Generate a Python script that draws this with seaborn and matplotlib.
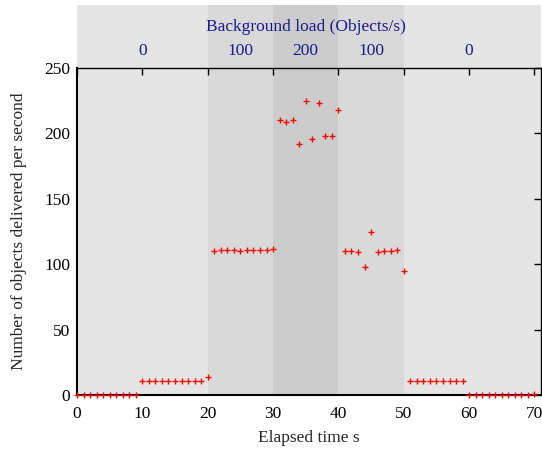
import matplotlib
matplotlib.use("Agg")
import matplotlib.pyplot as plt
import seaborn as sns
import pandas as pd

elapsed = list(range(0, 71))
delivered = ([0] * 10 + [11] * 10 + [14] +
             [110, 111, 111, 111, 110, 111, 111, 111, 111, 112] +
             [210, 209, 210, 192, 225, 196, 223, 198, 198, 218] +
             [110, 110, 109, 98, 125, 109, 110, 110, 111, 95] +
             [11] * 9 + [0] * 10 + [1])

phase_edges = [0, 20, 30, 40, 50, 71]
phase_loads = ["0", "100", "200", "100", "0"]
phase_label_x = [10, 25, 35, 45, 60]
phase_colors = ["#e5e5e5", "#d9d9d9", "#cccccc", "#d9d9d9", "#e5e5e5"]

df = pd.DataFrame({"t": elapsed, "n": delivered})

sns.set_style("white")
plt.rcParams["font.family"] = ["Liberation Serif", "DejaVu Serif"]
FS = 12.5

fig = plt.figure(figsize=(5.42, 4.53), dpi=100)
ax = fig.add_axes([77 / 542, 1 - 395 / 453, (541 - 77) / 542, (395 - 68) / 453])

band_top = 1 + (68 - 5) / (395 - 68)
for i in range(len(phase_loads)):
    ax.axvspan(phase_edges[i], phase_edges[i + 1], ymin=0, ymax=band_top,
               color=phase_colors[i], lw=0, clip_on=False, zorder=0)

sns.scatterplot(data=df, x="t", y="n", marker="+", color="#ff0000", s=22,
                linewidth=1.0, ax=ax, zorder=3, clip_on=False)

ax.set_xlim(0, 71)
ax.set_ylim(0, 250)
ax.set_xticks(range(0, 71, 10))
ax.set_yticks(range(0, 251, 50))
ax.tick_params(direction="in", length=5, width=1, top=True, right=True,
               labelsize=FS, colors="black", pad=5)
ax.tick_params(axis="x", pad=8)
for s in ["left", "bottom", "top", "right"]:
    ax.spines[s].set_visible(True)
    ax.spines[s].set_color("black")
    ax.spines[s].set_linewidth(1.0)
ax.spines["bottom"].set_linewidth(1.5)
ax.spines["left"].set_linewidth(1.5)
ax.set_facecolor("none")

ax.set_xlabel("Elapsed time s", fontsize=FS, labelpad=6)
ax.set_ylabel("Number of objects delivered per second", fontsize=FS, labelpad=12)

navy = "#1a1a8c"
ax.text(35, 1 + (68 - 27) / 327, "Background load (Objects/s)", transform=ax.get_xaxis_transform(),
        ha="center", va="center", color=navy, fontsize=FS)
for xpos, lab in zip(phase_label_x, phase_loads):
    ax.text(xpos, 1 + (68 - 51) / 327, lab, transform=ax.get_xaxis_transform(),
            ha="center", va="center", color=navy, fontsize=FS)

fig.savefig("out.png", dpi=100)
